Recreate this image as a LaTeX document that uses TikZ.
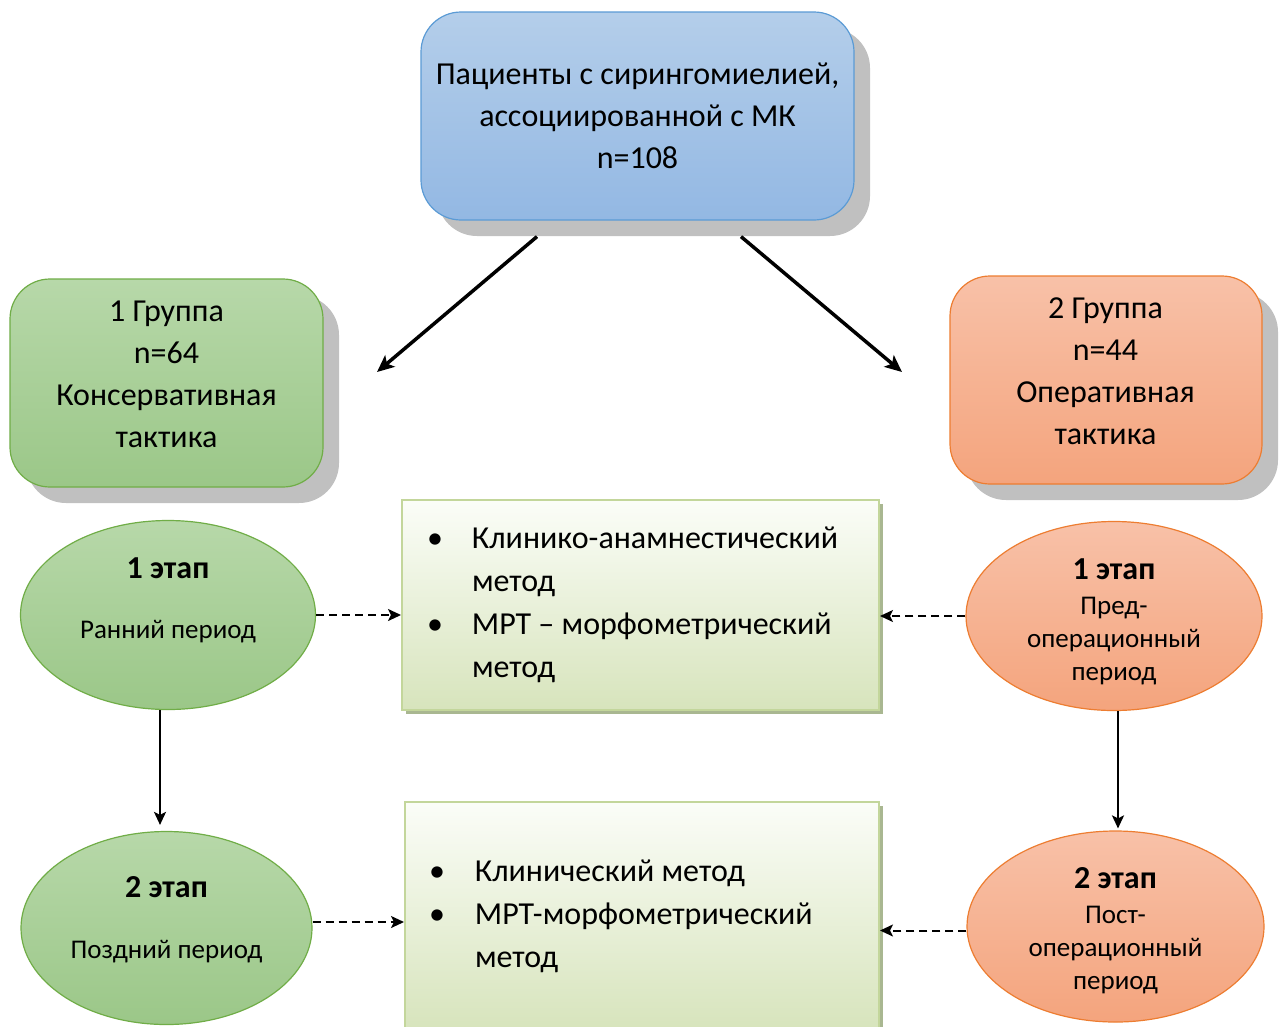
\documentclass[tikz,border=0pt]{standalone}
\usepackage{fontspec}
\setmainfont{Carlito}
\usepackage{xcolor}
\usetikzlibrary{
    arrows.meta,
    shapes,
    shadows,
    calc,
    positioning
}
\definecolor{blueTop}{HTML}{B4CEEA}
\definecolor{blueBot}{HTML}{93B8E3}
\definecolor{blueLine}{HTML}{5B9BD5}
\definecolor{greenTop}{HTML}{B7D8A9}
\definecolor{greenBot}{HTML}{9BC788}
\definecolor{greenLine}{HTML}{70AD47}
\definecolor{orangeTop}{HTML}{F8C1A8}
\definecolor{orangeBot}{HTML}{F4A47D}
\definecolor{orangeLine}{HTML}{ED7D31}
\definecolor{methodTop}{HTML}{FBFDF8}
\definecolor{methodBot}{HTML}{D7E4BC}
\definecolor{methodLine}{HTML}{C3D69B}
\definecolor{methodShadow}{HTML}{A9B791}
\definecolor{shadowGray}{HTML}{C0C0C0}

\begin{document}
\begin{tikzpicture}[x=1pt, y=-1pt,
    bigbox/.style={rounded corners=40pt, line width=1.2pt, align=center,
        font=\fontsize{32}{42}\selectfont,
        drop shadow={shadow xshift=16pt, shadow yshift=-16pt, fill=shadowGray, opacity=1}},
    boxtext/.style={align=center, font=\fontsize{32}{42}\selectfont},
    method/.style={draw=methodLine, line width=2pt, top color=methodTop, bottom color=methodBot,
        align=flush left, font=\fontsize{32}{43}\selectfont, inner ysep=0pt,
        drop shadow={shadow xshift=4pt, shadow yshift=-4pt, fill=methodShadow, opacity=1}},
    stage/.style={ellipse, line width=1.2pt, minimum width=295pt, minimum height=189pt},
    stagetext/.style={align=center, font=\fontsize{27}{33}\selectfont},
    stagehead/.style={font=\bfseries\fontsize{32}{33}\selectfont},
    thick arrow/.style={line width=3.5pt, -{Stealth[length=17pt, width=15pt, inset=4pt]}},
    thin arrow/.style={line width=2pt, -{Stealth[length=13pt, width=12pt, inset=3pt]}},
    dash arrow/.style={line width=2pt, dash pattern=on 8pt off 5pt, -{Stealth[length=13pt, width=12pt, inset=3pt]}}
]
    \useasboundingbox[fill=white] (0, 0) rectangle (1279, 1026);

    \node[bigbox, draw=blueLine, top color=blueTop, bottom color=blueBot,
        minimum width=433pt, minimum height=208pt] (patients) at (637.5, 116)
        {Пациенты с сирингомиелией,\\ассоциированной с МК\\n=108};
    \node[bigbox, draw=greenLine, top color=greenTop, bottom color=greenBot,
        minimum width=313pt, minimum height=208pt] (group1) at (166.5, 383) {};
    \node[boxtext] (group1Text) at (166.5, 374) {1 Группа\\n=64\\Консервативная\\тактика};
    \node[bigbox, draw=orangeLine, top color=orangeTop, bottom color=orangeBot,
        minimum width=312pt, minimum height=208pt] (group2) at (1106, 380) {};
    \node[boxtext] (group2Text) at (1105.5, 371) {2 Группа\\n=44\\Оперативная\\тактика};

    \coordinate (leftFrom) at ($(patients.south) + (-100.5, 16)$);
    \coordinate (leftTo) at (377, 372);
    \coordinate (rightFrom) at ($(patients.south) + (103.5, 16)$);
    \coordinate (rightTo) at (902, 372);
    \draw[thick arrow] (leftFrom) -- (leftTo);
    \draw[thick arrow] (rightFrom) -- (rightTo);

    \node[stage, draw=greenLine, top color=greenTop, bottom color=greenBot] (early) at (168, 615) {};
    \node[stagetext] (earlyText) at (168, 600) {{\bfseries\fontsize{32}{33}\selectfont 1 этап}\\[27pt]Ранний период};
    \node[stage, draw=greenLine, top color=greenTop, bottom color=greenBot,
        minimum width=291pt, minimum height=193pt] (late) at (166.5, 928) {};
    \node[stagetext] (lateText) at (166.5, 920) {{\bfseries\fontsize{32}{33}\selectfont 2 этап}\\[28pt]Поздний период};

    \node[stage, draw=orangeLine, top color=orangeTop, bottom color=orangeBot,
        minimum width=296pt] (preop) at (1114, 616) {};
    \node[stagetext] (preopText) at (1114, 622) {{\bfseries\fontsize{32}{33}\selectfont 1 этап}\\[2pt]Пред-\\операционный\\период};
    \node[stage, draw=orangeLine, top color=orangeTop, bottom color=orangeBot,
        minimum width=297pt, minimum height=191pt] (postop) at (1115.5, 926.5) {};
    \node[stagetext] (postopText) at (1115.5, 931) {{\bfseries\fontsize{32}{33}\selectfont 2 этап}\\[2pt]Пост-\\операционный\\период};

    \node[method, minimum width=477pt, minimum height=210pt, text width=427pt, inner xsep=25pt] (methods1) at (640.5, 605)
        {\makebox[45pt][l]{•}Клинико-анамнестический\\\hspace*{45pt}метод\\
         \makebox[45pt][l]{•}МРТ – морфометрический\\\hspace*{45pt}метод};
    \node[method, minimum width=474pt, minimum height=228pt, text width=426pt, inner xsep=24pt] (methods2) at (642, 916)
        {\makebox[46pt][l]{•}Клинический метод\\
         \makebox[46pt][l]{•}МРТ-морфометрический\\\hspace*{46pt}метод};

    \draw[thin arrow] ([xshift=-8pt]early.south) -- ([xshift=-6.5pt, yshift=6pt]late.north);
    \draw[thin arrow] ([xshift=4pt]preop.south) -- ([xshift=2.5pt, yshift=2pt]postop.north);

    \draw[dash arrow] (early.east) -- (early.east -| methods1.west);
    \draw[dash arrow] ([yshift=6pt]late.east) -- ([yshift=6pt]late.east -| methods2.west);
    \draw[dash arrow] (preop.west) -- (preop.west -| methods1.east);
    \draw[dash arrow] ([yshift=-4pt]postop.west) -- ([yshift=-4pt]postop.west -| methods2.east);
\end{tikzpicture}
\end{document}
